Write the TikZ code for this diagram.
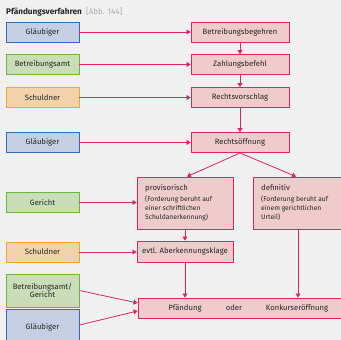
\documentclass[tikz,border=0pt]{standalone}
\usepackage{fontspec}
\setmainfont{Fira Sans}
\usetikzlibrary{arrows.meta,calc}
\definecolor{bgc}{HTML}{F0F0F0}
\definecolor{pinkline}{HTML}{DC2460}
\definecolor{pinkfill}{HTML}{EFCBCC}
\definecolor{bluel}{HTML}{2F6DB5}
\definecolor{bluef}{HTML}{C5CEE2}
\definecolor{greenl}{HTML}{6DB33F}
\definecolor{greenf}{HTML}{C9DDB9}
\definecolor{orangel}{HTML}{F2A531}
\definecolor{orangef}{HTML}{F2D2AA}
\definecolor{txt}{HTML}{262626}
\definecolor{graytxt}{HTML}{AAAAAA}
\begin{document}
\begin{tikzpicture}[x=1pt,y=-1pt,
  base/.style={rectangle,inner sep=0pt,line width=0.9pt,text=txt,font=\fontsize{7.7}{8.8}\selectfont,align=center},
  leftbox/.style={base,minimum width=73pt,minimum height=20pt},
  bluebox/.style={leftbox,draw=bluel,fill=bluef},
  greenbox/.style={leftbox,draw=greenl,fill=greenf},
  orangebox/.style={leftbox,draw=orangel,fill=orangef},
  pinkbox/.style={base,draw=pinkline,fill=pinkfill,minimum width=98pt,minimum height=20pt},
  smallnote/.style={font=\fontsize{6.7}{8.8}\selectfont,text=txt},
  arr/.style={draw=pinkline,line width=0.8pt,-{Triangle[length=4pt,width=5pt]}}
]
\fill[bgc] (0,0) rectangle (341,340);
\useasboundingbox (0,0) rectangle (341,340);
\clip (0,0) rectangle (341,340);
% title
\node[anchor=base west,inner sep=0pt,font=\bfseries\fontsize{8.2}{9}\selectfont,text=txt] (title) at (6,15) {Pfändungsverfahren};
\node[anchor=base west,inner sep=0pt,font=\fontsize{8}{9}\selectfont,text=graytxt] (abb) at ([xshift=4pt]title.base east) {[Abb. 144]};
% left boxes
\node[bluebox] (g1) at (42.5,32) {Gläubiger};
\node[greenbox] (ba) at (42.5,64.5) {Betreibungsamt};
\node[orangebox] (s1) at (42.5,97.5) {Schuldner};
\node[bluebox] (g2) at (42.5,142.5) {Gläubiger};
\node[greenbox] (ger) at (42.5,202.5) {Gericht};
\node[orangebox] (s2) at (42.5,252) {Schuldner};
\node[greenbox,minimum height=33pt] (bag) at (42.5,290.5) {Betreibungsamt/\\Gericht};
\node[bluebox,minimum height=36pt] (g3) at (42.5,327) {Gläubiger};
% right boxes
\node[pinkbox] (bb) at (240,32) {Betreibungsbegehren};
\node[pinkbox] (zb) at (240,64.5) {Zahlungsbefehl};
\node[pinkbox] (rv) at (240,97.5) {Rechtsvorschlag};
\node[pinkbox] (ro) at (240,142.5) {Rechtsöffnung};
\node[pinkbox,minimum width=96pt,minimum height=52pt] (prov) at (185,203) {};
\node[anchor=base west,inner sep=0pt,text=txt,font=\fontsize{7.7}{8.8}\selectfont] (provt) at (145,190) {provisorisch};
\node[anchor=north west,inner sep=0pt,align=left,smallnote] (provn) at (145,196) {(Forderung beruht auf\\einer schriftlichen\\Schuldanerkennung)};
\node[pinkbox,minimum width=96pt,minimum height=52pt] (def) at (301,203) {};
\node[anchor=base west,inner sep=0pt,text=txt,font=\fontsize{7.7}{8.8}\selectfont] (deft) at (261,190) {definitiv};
\node[anchor=north west,inner sep=0pt,align=left,smallnote] (defn) at (261,196) {(Forderung beruht auf\\einem gerichtlichen\\Urteil)};
\node[pinkbox,minimum width=96pt,minimum height=21pt] (ak) at (185,251.5) {evtl. Aberkennungsklage};
\node[pinkbox,minimum width=212pt,minimum height=20pt] (pk) at (244,308) {};
\node[base] (pf) at (185,308) {Pfändung};
\node[base] (od) at (234,308) {oder};
\node[base] (ko) at (297,308) {Konkurseröffnung};
% arrows
\draw[arr] (g1) -- (bb);
\draw[arr] (ba) -- (zb);
\draw[arr] (s1) -- (rv);
\draw[arr] (g2) -- (ro);
\draw[arr] (ger) -- (ger -| prov.west);
\draw[arr] (s2) -- (s2 -| ak.west);
\draw[arr] (bag.east) -- ([yshift=5pt]pk.west);
\draw[arr] ([yshift=2pt]g3.east) -- ([yshift=-3pt]pk.west);
\draw[arr] (bb) -- (zb);
\draw[arr] (zb) -- (rv);
\draw[arr] (rv) -- (ro);
\draw[arr] (ro.south) -- ([xshift=2pt]prov.north);
\draw[arr] (ro.south) -- ([xshift=-5pt]def.north);
\draw[arr] (prov.south) -- (ak.north);
\draw[arr] (ak.south) -- (ak.south |- pk.north);
\coordinate (dd) at ([xshift=-3pt]def.south);
\draw[arr] (dd) -- (dd |- pk.north);
\end{tikzpicture}
\end{document}
